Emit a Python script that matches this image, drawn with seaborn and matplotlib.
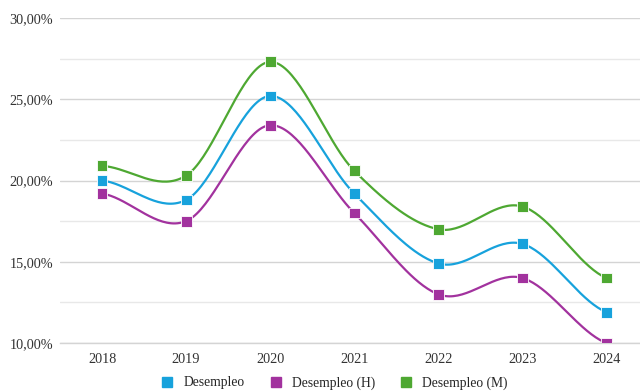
import numpy as np
import pandas as pd
import seaborn as sns
import matplotlib
matplotlib.use("Agg")
import matplotlib.pyplot as plt
from matplotlib.ticker import FuncFormatter, MultipleLocator
from matplotlib.lines import Line2D

years = ["2018", "2019", "2020", "2021", "2022", "2023", "2024"]
desempleo = [20.0, 18.8, 25.2, 19.2, 14.9, 16.1, 11.9]
desempleo_h = [19.2, 17.5, 23.4, 18.0, 13.0, 14.0, 10.0]
desempleo_m = [20.9, 20.3, 27.3, 20.6, 17.0, 18.4, 14.0]

series_names = ["Desempleo", "Desempleo (H)", "Desempleo (M)"]
series_values = [desempleo, desempleo_h, desempleo_m]
colors = ["#17A2DC", "#A2329E", "#4EA832"]

df = pd.DataFrame({
    "Año": np.tile(np.arange(len(years)), 3),
    "Valor": np.concatenate(series_values) / 100.0,
    "Serie": np.repeat(series_names, len(years)),
})

sns.set_theme(style="white")
plt.rcParams["font.family"] = ["Liberation Serif", "DejaVu Serif"]

fig = plt.figure(figsize=(6.4, 3.92), dpi=100)
ax = fig.add_axes([60 / 640, 1 - 343 / 392, 1 - 60 / 640, (343 - 18) / 392])


def catmull_rom(x, y, n=40, tension=0.5):
    x = np.asarray(x, float)
    y = np.asarray(y, float)
    px = np.concatenate([[2 * x[0] - x[1]], x, [2 * x[-1] - x[-2]]])
    py = np.concatenate([[y[0]], y, [y[-1]]])
    xs, ys = [], []
    for i in range(1, len(px) - 2):
        t = np.linspace(0, 1, n)
        p0, p1, p2, p3 = py[i - 1], py[i], py[i + 1], py[i + 2]
        m1 = tension * (p2 - p0)
        m2 = tension * (p3 - p1)
        h00 = 2 * t**3 - 3 * t**2 + 1
        h10 = t**3 - 2 * t**2 + t
        h01 = -2 * t**3 + 3 * t**2
        h11 = t**3 - t**2
        ys.append(h00 * p1 + h10 * m1 + h01 * p2 + h11 * m2)
        xs.append(px[i] + t * (px[i + 1] - px[i]))
    return np.concatenate(xs), np.concatenate(ys)


for name, col in zip(series_names, colors):
    sub = df[df["Serie"] == name]
    sx, sy = catmull_rom(sub["Año"].values, sub["Valor"].values)
    ax.plot(sx, sy, color=col, lw=1.6, zorder=3, clip_on=True)

sns.scatterplot(data=df, x="Año", y="Valor", hue="Serie", palette=colors,
                marker="s", s=62, edgecolor="white", linewidth=0.6,
                legend=False, ax=ax, zorder=4, clip_on=True)

ax.set_xlim(-0.5, 6.4)
ax.set_ylim(0.10, 0.30)
ax.yaxis.set_major_locator(MultipleLocator(0.05))
ax.yaxis.set_minor_locator(MultipleLocator(0.025))
ax.yaxis.set_major_formatter(FuncFormatter(lambda v, p: f"{v * 100:.2f}%".replace(".", ",")))
ax.set_xticks(range(len(years)))
ax.set_xticklabels(years)
ax.grid(axis="y", which="major", color="#D4D4D4", lw=1.0)
ax.grid(axis="y", which="minor", color="#E8E8E8", lw=1.0)
ax.set_axisbelow(True)
for s in ["top", "right", "left"]:
    ax.spines[s].set_visible(False)
ax.spines["bottom"].set_color("#D4D4D4")
ax.spines["bottom"].set_linewidth(1.0)
ax.tick_params(axis="both", which="both", length=0, labelsize=10.3, colors="#333333")
ax.tick_params(axis="y", pad=5)
ax.tick_params(axis="x", pad=7)
ax.set_xlabel("")
ax.set_ylabel("")

handles = [Line2D([], [], marker="s", color=c, lw=0, markersize=7) for c in colors]
fig.legend(handles, series_names, loc="lower center", bbox_to_anchor=(0.522, -0.025),
           ncol=3, frameon=False, fontsize=9.8, handletextpad=0.68, columnspacing=1.8,
           handlelength=1.0)

fig.savefig("out.png", dpi=100)
